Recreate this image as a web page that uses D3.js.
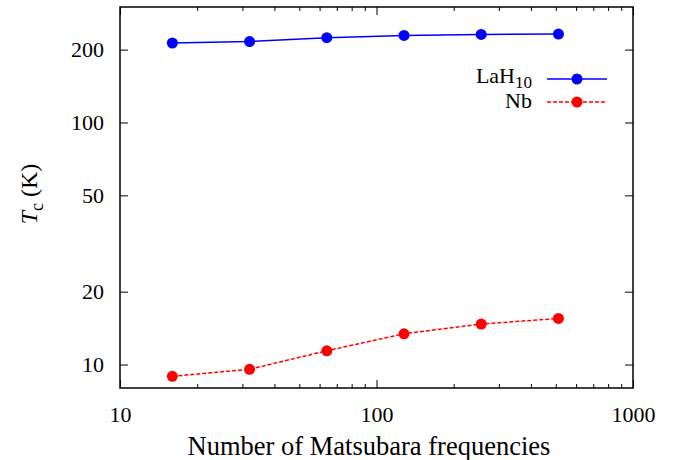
<!DOCTYPE html>
<html><head><meta charset="utf-8">
<script src="https://cdn.jsdelivr.net/npm/d3@7"></script>
</head><body style="margin:0;background:#fff"><svg id="c" width="675" height="460"></svg>
<script>
const freqs = [16, 32, 64, 128, 256, 512];
const lah10 = [213, 216, 224, 229, 231, 232];
const nb = [8.94, 9.56, 11.4, 13.4, 14.7, 15.5];
const xTicks = [10, 100, 1000];
const yTicks = [10, 20, 50, 100, 200];
const seriesNames = ["LaH", "Nb"];
const FONT = "Liberation Serif";

const svg = d3.select("#c");
const L = 120, R = 633, T = 7, B = 388;
const x = d3.scaleLog().domain([10, 1000]).range([L, R]);
const y = d3.scaleLog().domain([8, 300]).range([B, T]);

const minor = [];
for (let d = 10; d < 1000; d *= 10) for (let k = 2; k <= 9; k++) minor.push(d * k);

const g = svg.append("g");
g.append("g").attr("transform", `translate(0,${B})`)
  .call(d3.axisBottom(x).tickValues(minor).tickSize(-4).tickFormat(""))
  .call(s => s.select(".domain").remove());
g.append("g").attr("transform", `translate(0,${T})`)
  .call(d3.axisTop(x).tickValues(minor).tickSize(-4).tickFormat(""))
  .call(s => s.select(".domain").remove());
const xa = g.append("g").attr("transform", `translate(0,${B})`)
  .call(d3.axisBottom(x).tickValues(xTicks).tickSize(-8).tickPadding(18).tickFormat(d3.format("d")));
xa.select(".domain").remove();
g.append("g").attr("transform", `translate(0,${T})`)
  .call(d3.axisTop(x).tickValues(xTicks).tickSize(-8).tickFormat(""))
  .call(s => s.select(".domain").remove());
const ya = g.append("g").attr("transform", `translate(${L},0)`)
  .call(d3.axisLeft(y).tickValues(yTicks).tickSize(-8).tickPadding(16).tickFormat(d3.format("d")));
ya.select(".domain").remove();
g.append("g").attr("transform", `translate(${R},0)`)
  .call(d3.axisRight(y).tickValues(yTicks).tickSize(-8).tickFormat(""))
  .call(s => s.select(".domain").remove());
g.selectAll(".tick line").attr("stroke", "#000").attr("stroke-width", 1);
g.selectAll("g").attr("font-family", FONT).attr("font-size", 22);
g.selectAll(".tick text").attr("font-family", FONT).attr("font-size", 22).attr("fill", "#000");

svg.append("rect").attr("x", L).attr("y", T).attr("width", R - L).attr("height", B - T)
  .attr("fill", "none").attr("stroke", "#000").attr("stroke-width", 1.5);

const line = d3.line().x(d => x(d[0])).y(d => y(d[1]));
const s1 = freqs.map((f, i) => [f, lah10[i]]);
const s2 = freqs.map((f, i) => [f, nb[i]]);
svg.append("path").datum(s1).attr("d", line).attr("fill", "none").attr("stroke", "#0000ff").attr("stroke-width", 1.5);
svg.append("path").datum(s2).attr("d", line).attr("fill", "none").attr("stroke", "#ff0000").attr("stroke-width", 1.5).attr("stroke-dasharray", "4,2");
svg.selectAll(".p1").data(s1).enter().append("circle").attr("cx", d => x(d[0])).attr("cy", d => y(d[1])).attr("r", 5.5).attr("fill", "#0000ff");
svg.selectAll(".p2").data(s2).enter().append("circle").attr("cx", d => x(d[0])).attr("cy", d => y(d[1])).attr("r", 5.5).attr("fill", "#ff0000");

// legend
const lg = svg.append("g");
const t1 = lg.append("text").attr("x", 532).attr("y", 83).attr("text-anchor", "end").attr("font-family", FONT).attr("font-size", 22);
t1.append("tspan").text(seriesNames[0]);
t1.append("tspan").attr("dy", 5).attr("font-size", 17).text("10");
lg.append("line").attr("x1", 547).attr("x2", 607).attr("y1", 79).attr("y2", 79).attr("stroke", "#0000ff").attr("stroke-width", 1.5);
lg.append("circle").attr("cx", 577).attr("cy", 79).attr("r", 5.5).attr("fill", "#0000ff");
lg.append("text").attr("x", 532).attr("y", 108).attr("text-anchor", "end").attr("font-family", FONT).attr("font-size", 22).text(seriesNames[1]);
lg.append("line").attr("x1", 547).attr("x2", 607).attr("y1", 102).attr("y2", 102).attr("stroke", "#ff0000").attr("stroke-width", 1.5).attr("stroke-dasharray", "4,2");
lg.append("circle").attr("cx", 577).attr("cy", 102).attr("r", 5.5).attr("fill", "#ff0000");

// axis titles
svg.append("text").attr("x", 369).attr("y", 455).attr("text-anchor", "middle").attr("font-family", FONT).attr("font-size", 26.5)
  .text("Number of Matsubara frequencies");
const yt = svg.append("text").attr("transform", "translate(37,194) rotate(-90)").attr("text-anchor", "middle").attr("font-family", FONT).attr("font-size", 24);
yt.append("tspan").attr("font-style", "italic").text("T");
yt.append("tspan").attr("dy", 6).attr("font-size", 18).text("c");
yt.append("tspan").attr("dy", -6).text(" (K)");
</script></body></html>
